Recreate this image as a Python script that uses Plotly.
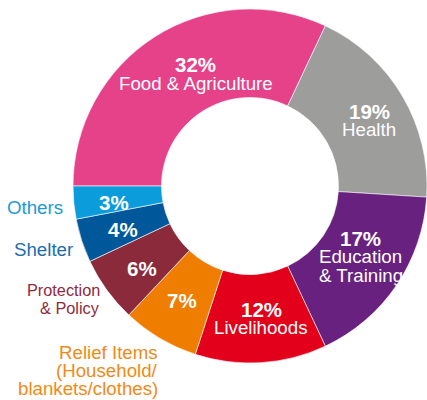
import math
import plotly.graph_objects as go

# ---- data ----
categories = ["Food & Agriculture", "Health", "Education & Training", "Livelihoods",
              "Relief Items", "Protection & Policy", "Shelter", "Others"]
values = [32, 19, 17, 12, 7, 6, 4, 3]
colors = ["#E6428A", "#9D9D9C", "#68217F", "#E2001A",
          "#EF7D00", "#8A2A3A", "#005799", "#0A9CDB"]
label_lines = {
    "Food & Agriculture": ["Food & Agriculture"],
    "Health": ["Health"],
    "Education & Training": ["Education", "& Training"],
    "Livelihoods": ["Livelihoods"],
    "Relief Items": ["Relief Items", "(Household/", "blankets/clothes)"],
    "Protection & Policy": ["Protection", "& Policy"],
    "Shelter": ["Shelter"],
    "Others": ["Others"],
}
outside = ["Relief Items", "Protection & Policy", "Shelter", "Others"]
outside_colors = {"Relief Items": "#F08A17", "Protection & Policy": "#8E2A3E",
                  "Shelter": "#1C6DAE", "Others": "#1E9AD6"}

# ---- geometry ----
W, H = 427, 400
CX, CY, R = 250, 186, 177
HOLE = 0.5
ROT = 270
FONT = "Liberation Sans, Arial, sans-serif"
nudge = {"Food & Agriculture": (17, 0), "Health": (5, 2),
         "Education & Training": (1, -4), "Livelihoods": (3, 0),
         "Others": (-4, 4), "Protection & Policy": (-1, 4), "Shelter": (-1, 2)}
out_nudge = {"Relief Items": (5, 2), "Shelter": (2, 2), "Protection & Policy": (2, 0)}


def px(x):
    return x / W


def py(y):
    return 1 - y / H


fig = go.Figure(go.Pie(
    labels=categories, values=values, sort=False, direction="clockwise",
    rotation=ROT, hole=HOLE, textinfo="none", hoverinfo="label+percent",
    marker=dict(colors=colors, line=dict(color="white", width=0.6)),
    domain=dict(x=[px(CX - R), min(1.0, px(CX + R))],
                y=[py(CY + R), py(CY - R)]),
    showlegend=False,
))

annotations = []
total = sum(values)
start = ROT
rin = R * HOLE
for cat, v in zip(categories, values):
    span = 360 * v / total
    mid = math.radians(start + span / 2)
    start += span
    s, c = math.sin(mid), math.cos(mid)
    pct = f"{round(100 * v / total)}%"
    lines = label_lines[cat]
    rm = (rin + R) / 2
    dx, dy = nudge.get(cat, (0, 0))
    x0, y0 = CX + rm * s + dx, CY - rm * c + dy
    if cat in outside:
        annotations.append(dict(x=px(x0), y=py(y0), text=f"<b>{pct}</b>",
                                font=dict(family=FONT, size=20.5, color="white")))
        ro = R + 9
        ox, oy = out_nudge.get(cat, (0, 0))
        xo, yo = CX + ro * s + ox, CY - ro * c + oy
        fs = 16.3 if cat == "Protection & Policy" else 18.7
        step = 18
        n = len(lines)
        if cat == "Relief Items":
            ys = [yo + 4 + i * step for i in range(n)]
        else:
            ys = [yo + 4 + (i - (n - 1) / 2) * step for i in range(n)]
        for ln, yy in zip(lines, ys):
            annotations.append(dict(x=px(xo), y=py(yy), text=ln, xanchor="right",
                                    font=dict(family=FONT, size=fs,
                                              color=outside_colors[cat])))
    else:
        allines = [pct] + lines
        n = len(allines)
        step = 18.5
        for i, ln in enumerate(allines):
            yy = y0 + (i - (n - 1) / 2) * step
            txt = f"<b>{ln}</b>" if i == 0 else ln
            annotations.append(dict(x=px(x0), y=py(yy), text=txt,
                                    font=dict(family=FONT, size=20.5 if i == 0 else 18.7,
                                              color="white")))

for a in annotations:
    a.update(xref="paper", yref="paper", showarrow=False, yanchor="middle")
    a.setdefault("xanchor", "center")

fig.update_layout(width=W, height=H, margin=dict(l=0, r=0, t=0, b=0),
                  paper_bgcolor="white", plot_bgcolor="white",
                  annotations=annotations)
fig.write_html("out.html")
